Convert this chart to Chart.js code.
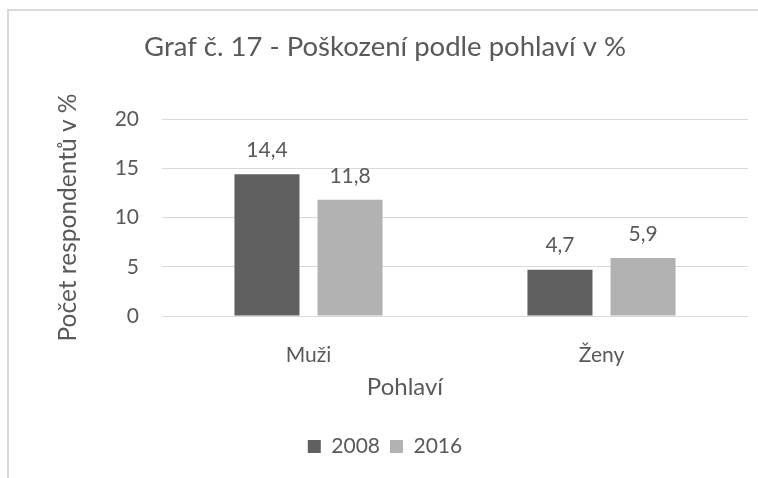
<!DOCTYPE html>
<html>
<head>
<meta charset="utf-8">
<script src="https://cdn.jsdelivr.net/npm/chart.js@4.4.1/dist/chart.umd.min.js"></script>
<style>
  html, body { margin: 0; padding: 0; background: #ffffff; }
  #wrap { position: relative; width: 758px; height: 478px; }
</style>
</head>
<body>
<div id="wrap"><canvas id="c" width="758" height="478"></canvas></div>
<script>
const chartTitle = 'Graf č. 17 - Poškození podle pohlaví v %';
const yTitle = 'Počet respondentů v %';
const xTitle = 'Pohlaví';
const categories = ['Muži', 'Ženy'];
const seriesNames = ['2008', '2016'];
const values2008 = [14.4, 4.7];
const values2016 = [11.8, 5.9];
const yTicks = [0, 5, 10, 15, 20];

const FONT = 'Lato, "Open Sans", sans-serif';
const TEXT = '#595959';

const framePlugin = {
  id: 'frame',
  beforeDraw(chart) {
    const ctx = chart.ctx;
    ctx.save();
    ctx.fillStyle = '#ffffff';
    ctx.fillRect(0, 0, chart.width, chart.height);
    ctx.strokeStyle = '#d9d9d9';
    ctx.lineWidth = 2;
    ctx.strokeRect(8, 10, 900, 600);
    ctx.restore();
  }
};

const labelPlugin = {
  id: 'valueLabels',
  afterDatasetsDraw(chart) {
    const ctx = chart.ctx;
    ctx.save();
    ctx.font = '21px ' + FONT;
    ctx.fillStyle = TEXT;
    ctx.textAlign = 'center';
    ctx.textBaseline = 'middle';
    chart.data.datasets.forEach((ds, di) => {
      const meta = chart.getDatasetMeta(di);
      meta.data.forEach((el, i) => {
        const v = ds.data[i];
        ctx.fillText(v.toFixed(1).replace('.', ','), el.x, el.y - 24);
      });
    });
    // x axis title
    ctx.font = '24px ' + FONT;
    ctx.fillText(xTitle, 405, 387);
    ctx.restore();
  }
};

new Chart(document.getElementById('c'), {
  type: 'bar',
  data: {
    labels: categories,
    datasets: [
      { label: seriesNames[0], data: values2008, backgroundColor: '#606060', categoryPercentage: 0.567, barPercentage: 0.783 },
      { label: seriesNames[1], data: values2016, backgroundColor: '#b2b2b2', categoryPercentage: 0.567, barPercentage: 0.783 }
    ]
  },
  plugins: [framePlugin, labelPlugin],
  options: {
    responsive: false,
    animation: false,
    events: [],
    layout: { padding: { left: 22, right: 10, top: 0, bottom: 11 } },
    plugins: {
      title: {
        display: true,
        text: chartTitle,
        color: TEXT,
        font: { family: FONT, size: 27.5, weight: 'normal' },
        padding: { top: 31, bottom: 55 }
      },
      legend: {
        position: 'bottom',
        labels: {
          color: TEXT,
          font: { family: FONT, size: 21 },
          boxWidth: 13,
          boxHeight: 13,
          padding: 10
        }
      },
      tooltip: { enabled: false }
    },
    scales: {
      x: {
        grid: { display: false, drawTicks: false },
        border: { display: false },
        ticks: { color: TEXT, font: { family: FONT, size: 21 }, padding: 27 },
        afterFit(s) { s.height = 110; }
      },
      y: {
        min: 0,
        max: 20,
        afterBuildTicks(s) { s.ticks = yTicks.map(v => ({ value: v })); },
        grid: { color: '#d9d9d9', lineWidth: 1, drawTicks: false },
        border: { display: false },
        ticks: { color: TEXT, font: { family: FONT, size: 21 }, padding: 23 },
        title: {
          display: true,
          text: yTitle,
          color: TEXT,
          font: { family: FONT, size: 24.5 },
          padding: { top: 31.3, bottom: 0 }
        },
        afterFit(s) { s.width = 140; }
      }
    }
  }
});
</script>
</body>
</html>
